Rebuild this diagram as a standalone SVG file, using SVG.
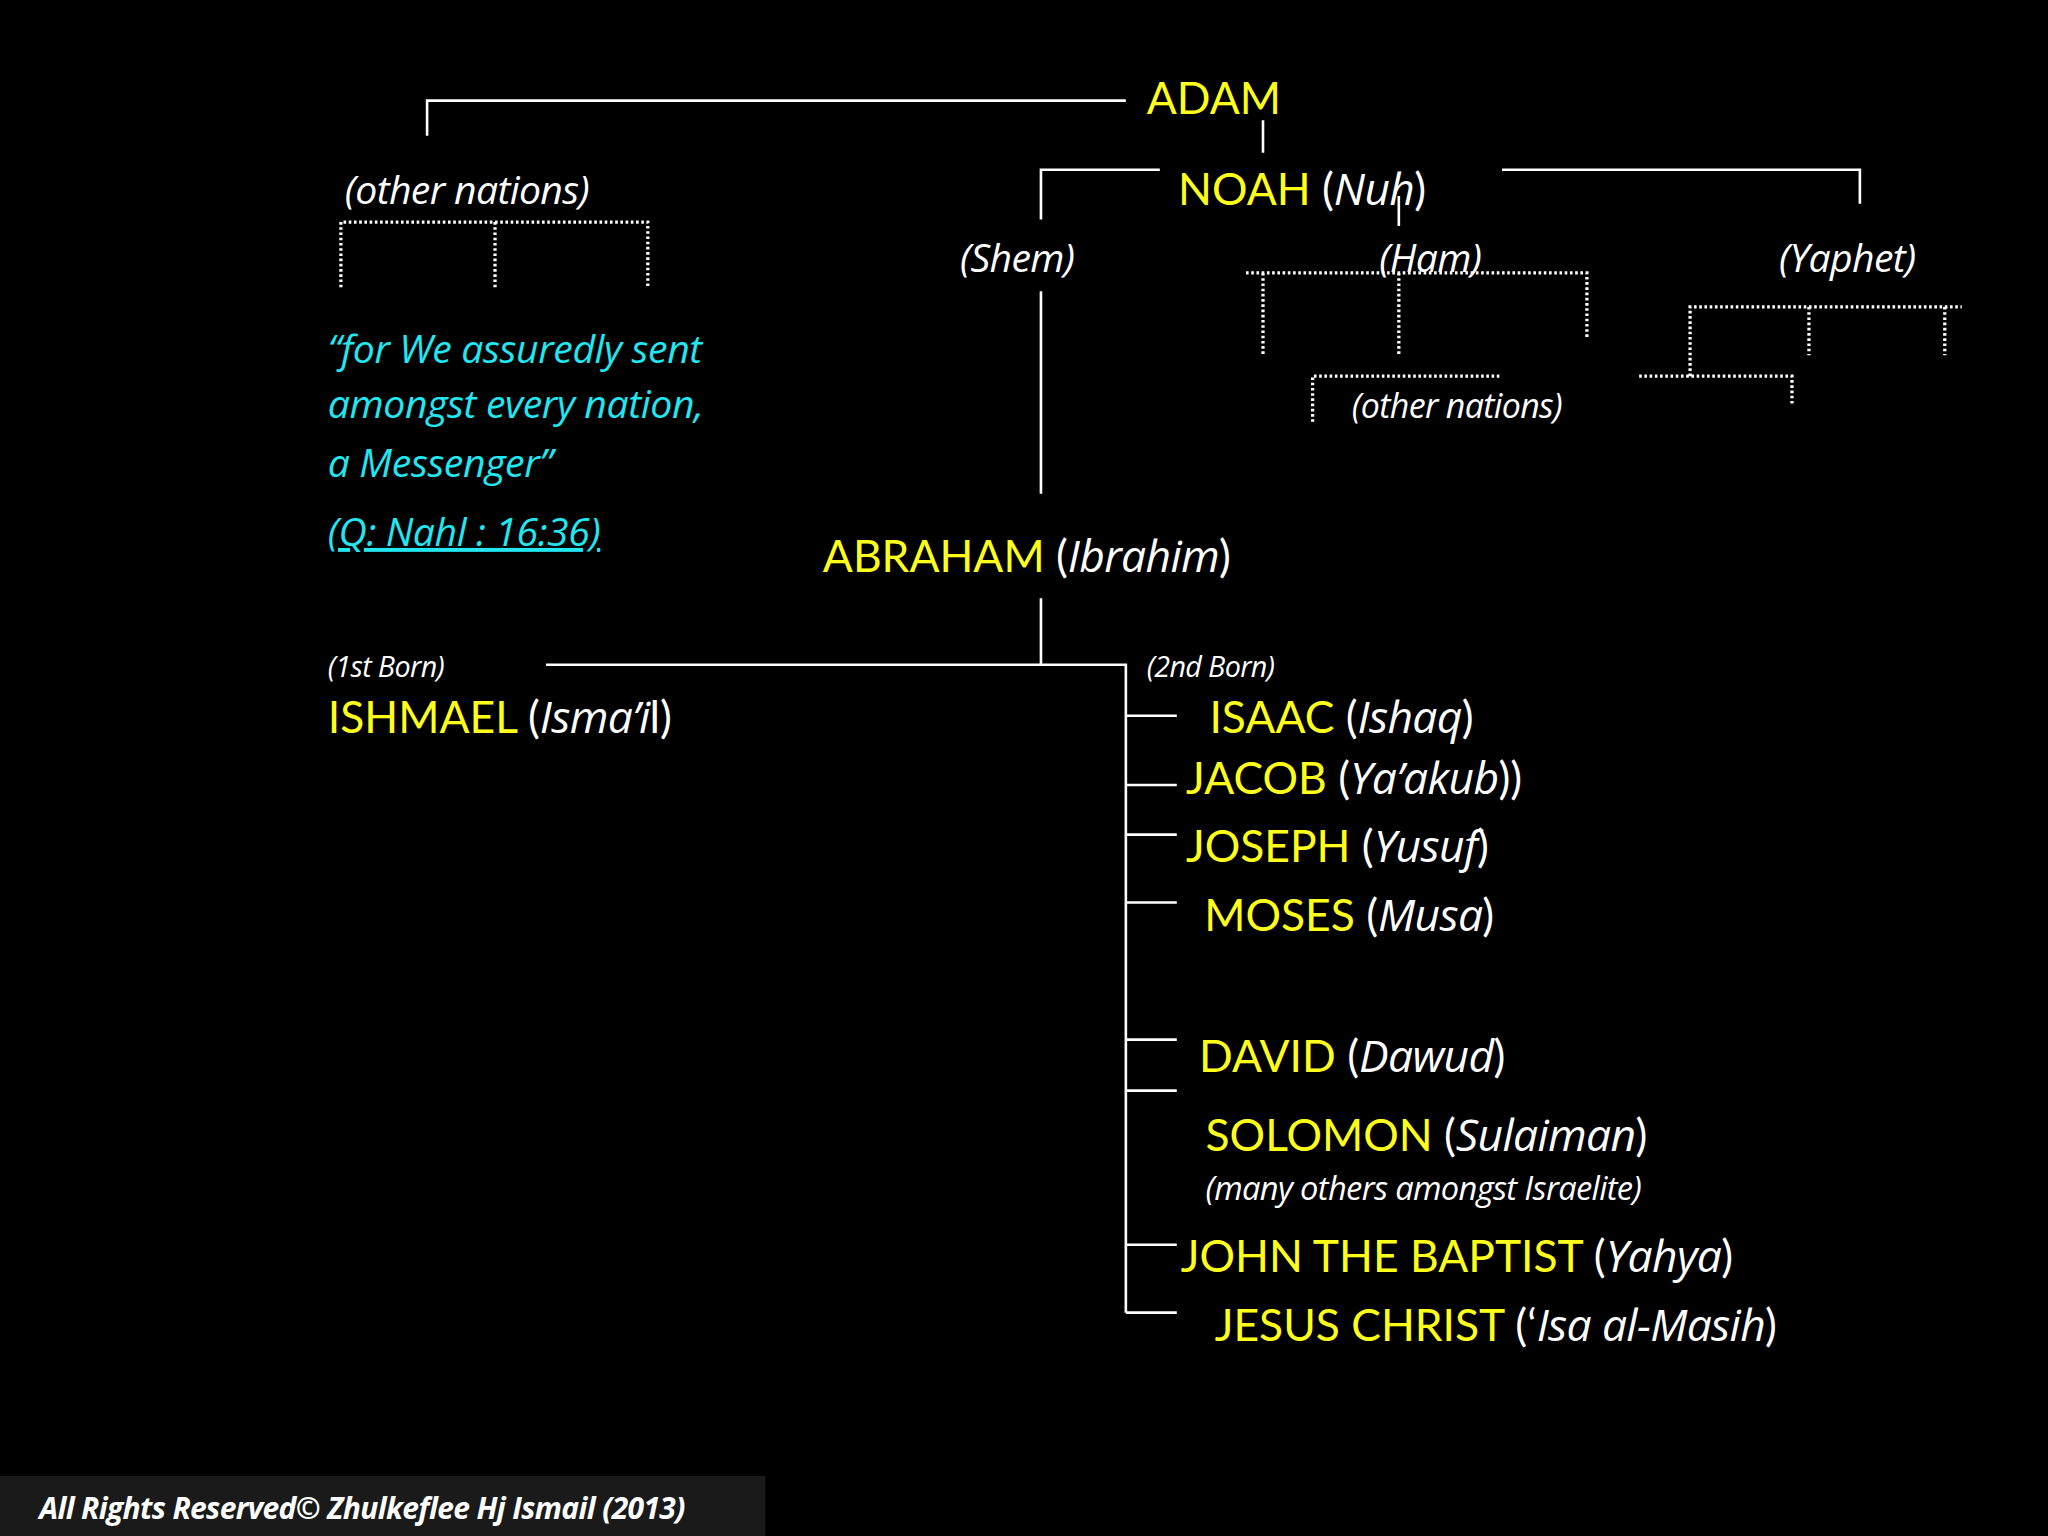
<svg xmlns="http://www.w3.org/2000/svg" width="2048" height="1536" viewBox="0 0 2048 1536">
<style>
text{font-family:Lato,"Open Sans",sans-serif}
.y{fill:#ffff1a;font-size:34px}
.w{fill:#fff}
.i{font-style:italic;font-family:"Open Sans",sans-serif;letter-spacing:-0.5px}
.l{stroke:#fff;stroke-width:2;fill:none}
.d{stroke:#fff;stroke-width:2.5;fill:none;stroke-dasharray:2 2}
.c{fill:#22e6f0;font-style:italic;font-size:30px;font-family:"Open Sans",sans-serif;letter-spacing:-0.3px}
</style>
<rect width="2048" height="1536" fill="#000"/>
<g transform="scale(1.3061)">
<g id="connectors">
<path class="l" d="M327,104V77H862M967,92V117M797,168V130H888M1071,150V173M1150,130H1424V156M797,223V378M797,458V509M418,509H862V1005M862,548H901M862,601H901M862,639H901M862,691H901M862,796H901M862,835H901M862,953H901M862,1005H901"/>
<path class="d" d="M261,220V170H496V220M379,170V220M954,209H1215V259M967,209V272M1071,209V272M1005,323V288H1150M1294,288V235H1502M1385,235V272M1489,235V272M1255,288H1372V311"/>
</g>
<g id="adam"><text x="878" y="87" class="y">ADAM</text></g>
<g id="noah"><text x="902" y="157" class="y">NOAH <tspan class="w">(</tspan><tspan class="w i">Nuh</tspan><tspan class="w">)</tspan></text></g>
<g id="other1"><text x="264" y="156" class="w i" font-size="30">(other nations)</text></g>
<g id="shem"><text x="735" y="208" class="w i" font-size="30">(Shem)</text></g>
<g id="ham"><text x="1056" y="208" class="w i" font-size="30">(Ham)</text></g>
<g id="yaphet"><text x="1362" y="208" class="w i" font-size="30">(Yaphet)</text></g>
<g id="other2"><text x="1035" y="320" class="w i" font-size="26">(other nations)</text></g>
<g id="quote">
<text x="251" y="278" class="c">“for We assuredly sent</text>
<text x="251" y="320" class="c">amongst every nation,</text>
<text x="251" y="365" class="c">a Messenger”</text>
<text x="251" y="418" class="c" font-size="26" text-decoration="underline">(Q: Nahl : 16:36)</text>
</g>
<g id="abraham"><text x="630" y="438" class="y">ABRAHAM <tspan class="w">(</tspan><tspan class="w i">Ibrahim</tspan><tspan class="w">)</tspan></text></g>
<g id="born1"><text x="251" y="518" class="w i" font-size="22">(1st Born)</text></g>
<g id="born2"><text x="878" y="518" class="w i" font-size="22">(2nd Born)</text></g>
<g id="ishmael"><text x="251" y="561" class="y">ISHMAEL <tspan class="w">(</tspan><tspan class="w i">Isma’i</tspan><tspan class="w">l)</tspan></text></g>
<g id="isaac"><text x="926" y="561" class="y">ISAAC <tspan class="w">(</tspan><tspan class="w i">Ishaq</tspan><tspan class="w">)</tspan></text></g>
<g id="jacob"><text x="908" y="608" class="y">JACOB <tspan class="w">(</tspan><tspan class="w i">Ya’akub</tspan><tspan class="w">))</tspan></text></g>
<g id="joseph"><text x="908" y="660" class="y">JOSEPH <tspan class="w">(</tspan><tspan class="w i">Yusuf</tspan><tspan class="w">)</tspan></text></g>
<g id="moses"><text x="922" y="713" class="y">MOSES <tspan class="w">(</tspan><tspan class="w i">Musa</tspan><tspan class="w">)</tspan></text></g>
<g id="david"><text x="918" y="821" class="y">DAVID <tspan class="w">(</tspan><tspan class="w i">Dawud</tspan><tspan class="w">)</tspan></text></g>
<g id="solomon"><text x="923" y="881" class="y">SOLOMON <tspan class="w">(</tspan><tspan class="w i">Sulaiman</tspan><tspan class="w">)</tspan></text>
<text x="923" y="919" class="w i" font-size="25">(many others amongst Israelite)</text></g>
<g id="john"><text x="904" y="974" class="y">JOHN THE BAPTIST <tspan class="w">(</tspan><tspan class="w i">Yahya</tspan><tspan class="w">)</tspan></text></g>
<g id="jesus"><text x="930" y="1027" class="y">JESUS CHRIST <tspan class="w">(‘</tspan><tspan class="w i">Isa al-Masih</tspan><tspan class="w">)</tspan></text></g>
<g id="footer"><rect x="0" y="1130" width="586" height="46" fill="#1a1a1a"/>
<text x="30" y="1163" class="w i" font-size="23" font-weight="bold">All Rights Reserved© Zhulkeflee Hj Ismail (2013)</text></g>
</g>
</svg>
